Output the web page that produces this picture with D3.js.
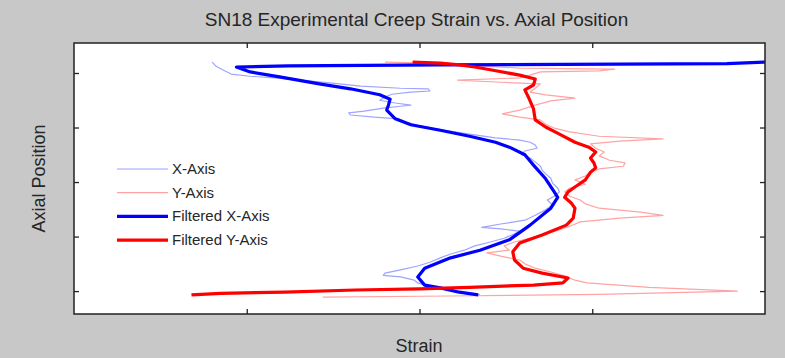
<!DOCTYPE html>
<html>
<head>
<meta charset="utf-8">
<script src="https://cdn.jsdelivr.net/npm/d3@7"></script>
<style>
  body { margin: 0; background: #c8c8c8; }
  svg { display: block; }
</style>
</head>
<body>
<svg id="chart" width="785" height="358"></svg>
<script>
// [axial position, strain] pairs, top to bottom
const rawX = [
  [4.20, 0.80], [4.13, 0.82], [4.06, 0.86], [3.98, 0.91], [3.94, 1.02], [3.91, 1.16],
  [3.87, 1.31], [3.82, 1.48], [3.76, 1.66], [3.72, 1.89], [3.71, 2.05], [3.67, 2.06],
  [3.65, 1.95], [3.61, 1.84], [3.56, 1.80], [3.50, 1.77], [3.45, 1.86], [3.41, 1.95],
  [3.39, 1.89], [3.36, 1.80], [3.30, 1.68], [3.27, 1.59], [3.23, 1.60], [3.19, 1.74],
  [3.16, 1.88], [3.10, 1.92], [3.03, 2.00], [2.95, 2.15], [2.88, 2.29], [2.81, 2.44],
  [2.77, 2.58], [2.73, 2.64], [2.68, 2.67], [2.62, 2.68], [2.57, 2.61], [2.50, 2.59],
  [2.44, 2.64], [2.37, 2.67], [2.29, 2.70], [2.22, 2.71], [2.15, 2.73], [2.07, 2.76],
  [1.98, 2.77], [1.89, 2.80], [1.82, 2.81], [1.74, 2.78], [1.67, 2.74], [1.58, 2.77],
  [1.49, 2.73], [1.39, 2.67], [1.30, 2.61], [1.23, 2.47], [1.17, 2.36], [1.14, 2.47],
  [1.10, 2.58], [1.05, 2.55], [0.97, 2.49], [0.90, 2.41], [0.83, 2.32], [0.75, 2.26],
  [0.68, 2.18], [0.61, 2.12], [0.53, 2.06], [0.46, 1.99], [0.39, 1.89], [0.33, 1.80],
  [0.29, 1.79], [0.26, 1.89], [0.20, 1.97], [0.15, 1.99], [0.09, 2.05], [0.04, 2.15],
  [-0.02, 2.25], [-0.07, 2.35]
]

const rawY = [
  [4.20, 1.80], [4.18, 2.06], [4.15, 2.23], [4.09, 2.58], [4.07, 3.13], [4.04, 3.04],
  [4.02, 2.70], [3.96, 2.64], [3.91, 2.58], [3.87, 2.22], [3.83, 2.47], [3.80, 2.70],
  [3.72, 2.67], [3.65, 2.64], [3.60, 2.73], [3.54, 2.90], [3.49, 2.76], [3.41, 2.67],
  [3.32, 2.58], [3.25, 2.48], [3.19, 2.58], [3.14, 2.70], [3.06, 2.73], [2.99, 2.78],
  [2.92, 2.87], [2.84, 3.04], [2.79, 3.41], [2.75, 3.16], [2.70, 2.99], [2.62, 3.02],
  [2.55, 3.07], [2.48, 3.04], [2.40, 3.10], [2.35, 3.19], [2.29, 3.18], [2.24, 3.04],
  [2.18, 2.99], [2.11, 2.96], [2.04, 2.90], [1.96, 2.96], [1.89, 2.87], [1.82, 2.84],
  [1.74, 2.87], [1.67, 2.93], [1.60, 2.96], [1.52, 3.04], [1.45, 3.28], [1.39, 3.41],
  [1.34, 3.16], [1.27, 2.93], [1.19, 2.87], [1.12, 2.81], [1.05, 2.73], [0.97, 2.64],
  [0.90, 2.55], [0.83, 2.49], [0.75, 2.52], [0.70, 2.39], [0.64, 2.47], [0.57, 2.58],
  [0.50, 2.61], [0.42, 2.67], [0.35, 2.76], [0.28, 2.84], [0.20, 2.90], [0.15, 2.97],
  [0.07, 3.33], [0.00, 3.84], [-0.06, 3.04], [-0.09, 2.18], [-0.11, 1.44]
]

const filtX = [
  [4.20, 4.00], [4.17, 3.78], [4.15, 2.12], [4.13, 1.24], [4.11, 0.94], [4.02, 1.02],
  [3.93, 1.19], [3.80, 1.42], [3.71, 1.60], [3.60, 1.77], [3.52, 1.83], [3.41, 1.82],
  [3.32, 1.81], [3.16, 1.86], [3.05, 1.95], [2.95, 2.12], [2.84, 2.29], [2.73, 2.44],
  [2.64, 2.52], [2.50, 2.61], [2.31, 2.66], [2.06, 2.73], [1.82, 2.78], [1.72, 2.80],
  [1.52, 2.76], [1.21, 2.64], [0.94, 2.52], [0.75, 2.35], [0.61, 2.18], [0.42, 2.03],
  [0.26, 1.99], [0.11, 2.03], [0.06, 2.12], [-0.02, 2.23], [-0.07, 2.34]
]

const filtY = [
  [4.20, 1.96], [4.18, 2.12], [4.15, 2.23], [4.11, 2.32], [4.06, 2.41], [3.96, 2.58],
  [3.89, 2.67], [3.78, 2.66], [3.69, 2.61], [3.56, 2.63], [3.34, 2.66], [3.14, 2.67],
  [3.01, 2.73], [2.88, 2.81], [2.73, 2.90], [2.64, 2.98], [2.55, 3.02], [2.44, 2.99],
  [2.35, 3.01], [2.26, 3.02], [2.18, 2.99], [2.04, 2.96], [1.91, 2.90], [1.82, 2.86],
  [1.72, 2.84], [1.61, 2.88], [1.52, 2.90], [1.34, 2.89], [1.21, 2.85], [1.03, 2.71],
  [0.88, 2.58], [0.72, 2.54], [0.57, 2.55], [0.42, 2.60], [0.33, 2.71], [0.24, 2.86],
  [0.15, 2.83], [0.11, 2.66], [0.07, 2.29], [0.04, 2.00], [0.02, 1.63], [-0.02, 1.22],
  [-0.04, 0.85], [-0.07, 0.68]
]

const strainTicks = [1, 2, 3]
const positionTicks = [0, 1, 2, 3, 4]

const series = [
  { label: 'X-Axis', data: rawX, color: '#9ea4ff', width: 1.2 },
  { label: 'Y-Axis', data: rawY, color: '#ffa3a3', width: 1.2 },
  { label: 'Filtered X-Axis', data: filtX, color: '#0000ff', width: 3.2 },
  { label: 'Filtered Y-Axis', data: filtY, color: '#ff0000', width: 3.2 }
]

const W = 785, H = 358
const margin = { top: 43, right: 20, bottom: 44, left: 74 }
const font = 'Liberation Sans Narrow, Liberation Sans, Arial, sans-serif'

const svg = d3.select('#chart')

svg.append('rect')
  .attr('width', W)
  .attr('height', H)
  .attr('fill', '#c8c8c8')

const x = d3.scaleLinear()
  .domain([0, 4])
  .range([margin.left, W - margin.right])

const y = d3.scaleLinear()
  .domain([-0.42, 4.55])
  .range([H - margin.bottom, margin.top])

const pw = x.range()[1] - x.range()[0]
const ph = y.range()[0] - y.range()[1]

// Plot background
svg.append('rect')
  .attr('x', margin.left)
  .attr('y', margin.top)
  .attr('width', pw)
  .attr('height', ph)
  .attr('fill', '#ffffff')

svg.append('clipPath')
  .attr('id', 'plot-clip')
  .append('rect')
  .attr('x', margin.left)
  .attr('y', margin.top)
  .attr('width', pw)
  .attr('height', ph)

// Lines
const line = d3.line()
  .x(d => x(d[1]))
  .y(d => y(d[0]))

const lines = svg.append('g').attr('clip-path', 'url(#plot-clip)')

series.forEach(s => {
  lines.append('path')
    .datum(s.data)
    .attr('fill', 'none')
    .attr('stroke', s.color)
    .attr('stroke-width', s.width)
    .attr('stroke-linejoin', 'round')
    .attr('d', line)
})

// Axes, ticks pointing inward, no labels
const tickLen = 5
const axisStyle = g => {
  g.select('.domain').remove()
  g.selectAll('.tick line').attr('stroke', '#222').attr('stroke-width', 1.3)
  g.selectAll('.tick text').remove()
}

svg.append('g')
  .attr('transform', `translate(0,${y.range()[0]})`)
  .call(d3.axisBottom(x).tickValues(strainTicks).tickSize(-tickLen))
  .call(axisStyle)

svg.append('g')
  .attr('transform', `translate(0,${y.range()[1]})`)
  .call(d3.axisTop(x).tickValues(strainTicks).tickSize(-tickLen))
  .call(axisStyle)

svg.append('g')
  .attr('transform', `translate(${x.range()[0]},0)`)
  .call(d3.axisLeft(y).tickValues(positionTicks).tickSize(-tickLen))
  .call(axisStyle)

svg.append('g')
  .attr('transform', `translate(${x.range()[1]},0)`)
  .call(d3.axisRight(y).tickValues(positionTicks).tickSize(-tickLen))
  .call(axisStyle)

// Frame
svg.append('rect')
  .attr('x', margin.left)
  .attr('y', margin.top)
  .attr('width', pw)
  .attr('height', ph)
  .attr('fill', 'none')
  .attr('stroke', '#222')
  .attr('stroke-width', 1.5)

// Title and axis labels
svg.append('text')
  .attr('x', (x.range()[0] + x.range()[1]) / 2 - 3)
  .attr('y', 26)
  .attr('text-anchor', 'middle')
  .style('font-family', font)
  .style('font-size', '19px')
  .style('fill', '#262626')
  .text('SN18 Experimental Creep Strain vs. Axial Position')

svg.append('text')
  .attr('x', 419)
  .attr('y', 352)
  .attr('text-anchor', 'middle')
  .style('font-family', font)
  .style('font-size', '18px')
  .style('fill', '#262626')
  .text('Strain')

svg.append('text')
  .attr('transform', `translate(45,${(y.range()[0] + y.range()[1]) / 2}) rotate(-90)`)
  .attr('text-anchor', 'middle')
  .style('font-family', font)
  .style('font-size', '18px')
  .style('fill', '#262626')
  .text('Axial Position')

// Legend
const legend = svg.append('g')
  .attr('transform', 'translate(117,169)')

series.forEach((s, i) => {
  const g = legend.append('g')
    .attr('transform', `translate(0,${i * 23.7})`)

  g.append('line')
    .attr('x1', 0)
    .attr('x2', 51)
    .attr('stroke', s.color)
    .attr('stroke-width', s.width)

  g.append('text')
    .attr('x', 55)
    .attr('y', 5)
    .style('font-family', font)
    .style('font-size', '15px')
    .style('fill', '#262626')
    .text(s.label)
})
</script>
</body>
</html>
